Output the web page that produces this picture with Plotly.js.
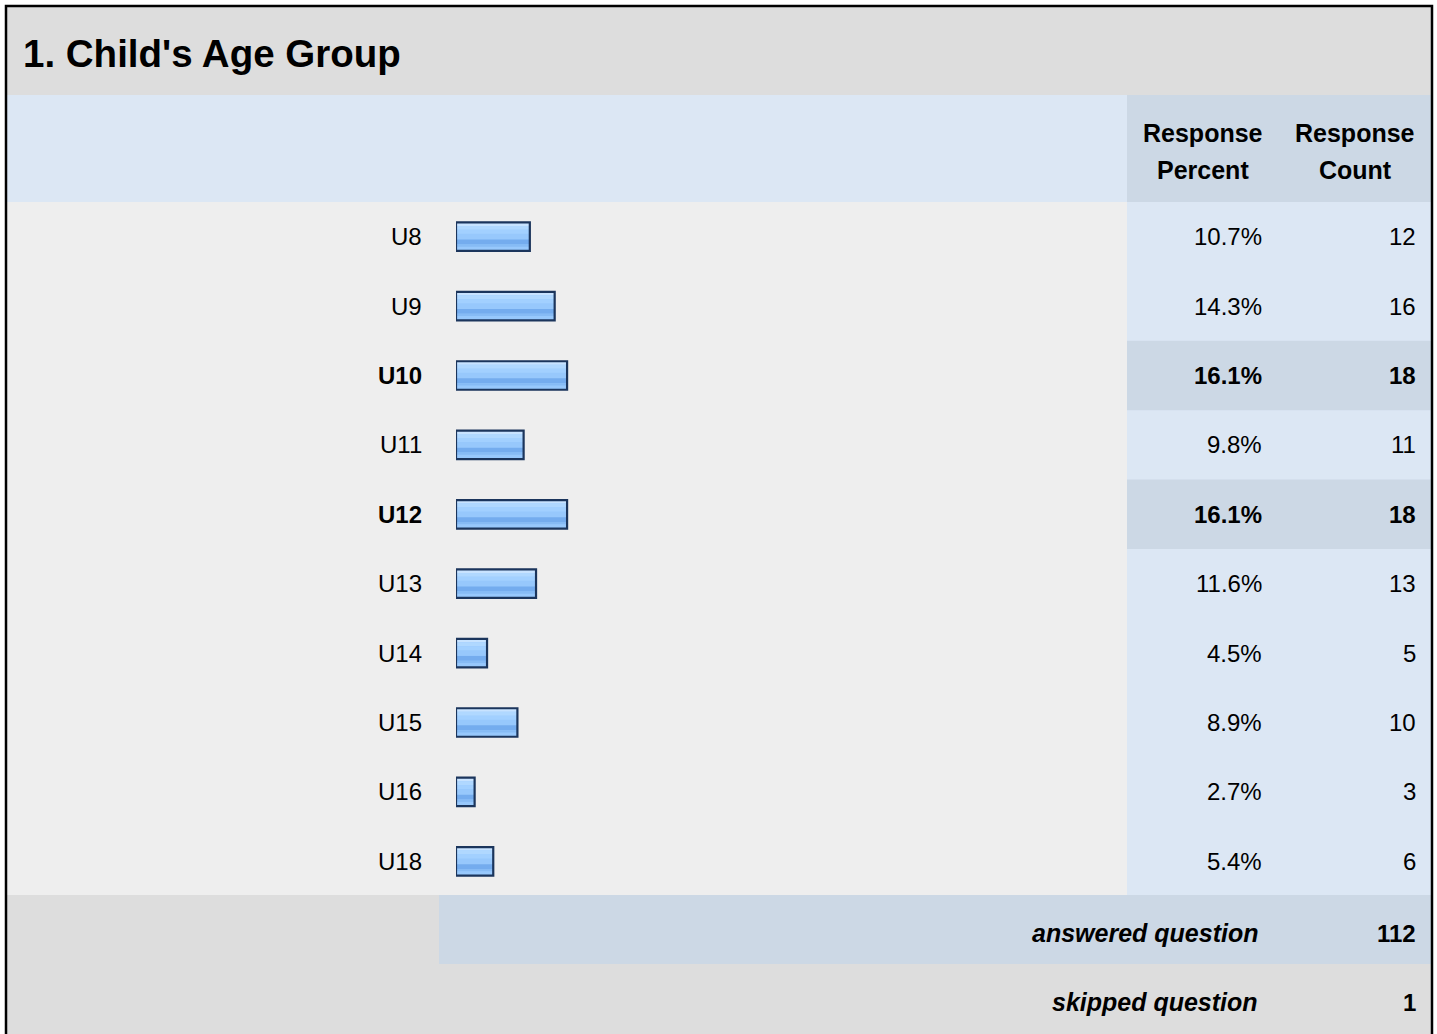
<!DOCTYPE html>
<html>
<head>
<meta charset="utf-8">
<script src="https://cdn.plot.ly/plotly-3.0.1.min.js"></script>
<style>
  html, body { margin: 0; padding: 0; background: #ffffff; }
  #chart { width: 1437px; height: 1034px; }
</style>
</head>
<body>
<div id="chart"></div>
<script>
// ---- data ----
const chartTitle = "1. Child's Age Group";
const categories = ["U8", "U9", "U10", "U11", "U12", "U13", "U14", "U15", "U16", "U18"];
const responsePercent = [10.7, 14.3, 16.1, 9.8, 16.1, 11.6, 4.5, 8.9, 2.7, 5.4];
const responseCount = [12, 16, 18, 11, 18, 13, 5, 10, 3, 6];
const headerPercent = ["Response", "Percent"];
const headerCount = ["Response", "Count"];
const answeredLabel = "answered question";
const answeredCount = 112;
const skippedLabel = "skipped question";
const skippedCount = 1;

// ---- layout helpers (pixel -> paper) ----
const W = 1437, H = 1034;
const px = x => x / W;
const py = y => 1 - y / H;
const FONT = "Liberation Sans, Arial, Helvetica, sans-serif";

const yIdx = categories.map((_, i) => i);
const maxPct = Math.max(...responsePercent);
const isTop = responsePercent.map(v => v === maxPct);

const shapes = [];
function rectPx(x0, y0, x1, y1, color) {
  shapes.push({type: 'rect', xref: 'paper', yref: 'paper', x0: px(x0), x1: px(x1), y0: py(y1), y1: py(y0),
    fillcolor: color, line: {width: 0}, layer: 'below'});
}
// title band
rectPx(6, 6, 1432, 95, '#dddddd');
// header
rectPx(6, 95, 1127, 202, '#dce7f4');
rectPx(1127, 95, 1432, 202, '#ccd8e5');
// body left
rectPx(6, 202, 1127, 896, '#eeeeee');
// body right
rectPx(1127, 202, 1432, 896, '#dce7f4');
// highlighted rows (max response) on the data axis
yIdx.filter(i => isTop[i]).forEach(i => {
  shapes.push({type: 'rect', xref: 'paper', yref: 'y', x0: px(1127), x1: px(1432), y0: i - 0.5, y1: i + 0.5,
    fillcolor: '#ccd8e5', line: {width: 0}, layer: 'below'});
});
// footer
rectPx(6, 895, 1432, 1034, '#dddddd');
rectPx(439, 895, 1432, 964, '#ccd8e5');
// outer frame
shapes.push({type: 'rect', xref: 'paper', yref: 'paper', x0: px(6), x1: px(1432), y0: py(1040), y1: py(6),
  fillcolor: 'rgba(0,0,0,0)', line: {color: '#000000', width: 2.5}, layer: 'above'});

const annotations = [];
function ann(text, x, y, yref, anchor, size, extra) {
  annotations.push(Object.assign({text: text, x: x, y: y, xref: 'paper', yref: yref,
    xanchor: anchor, yanchor: 'middle', showarrow: false,
    font: {family: FONT, size: size, color: '#000000'}}, extra || {}));
}
// title
ann('<b>' + chartTitle + '</b>', px(21), py(54), 'paper', 'left', 38.5);
// header
ann('<b>' + headerPercent[0] + '</b>', px(1203), py(133), 'paper', 'center', 25);
ann('<b>' + headerPercent[1] + '</b>', px(1203), py(170), 'paper', 'center', 25);
ann('<b>' + headerCount[0] + '</b>', px(1355), py(133), 'paper', 'center', 25);
ann('<b>' + headerCount[1] + '</b>', px(1355), py(170), 'paper', 'center', 25);
// rows
yIdx.forEach(i => {
  const b = t => isTop[i] ? '<b>' + t + '</b>' : t;
  ann(b(categories[i]), px(424), i, 'y', 'right', 24);
  ann(b(responsePercent[i].toFixed(1) + '%'), px(1264), i, 'y', 'right', 24);
  ann(b(String(responseCount[i])), px(1417.5), i, 'y', 'right', 24);
});
// footer text
ann('<b><i>' + answeredLabel + '</i></b>', px(1260), py(933), 'paper', 'right', 25);
ann('<b>' + answeredCount + '</b>', px(1417.5), py(933), 'paper', 'right', 24);
ann('<b><i>' + skippedLabel + '</i></b>', px(1260), py(1002), 'paper', 'right', 25);
ann('<b>' + skippedCount + '</b>', px(1417.5), py(1002), 'paper', 'right', 24);

// ---- bars (glossy look via stacked overlay bands) ----
const BH = 0.41;
function barTrace(color, offset, width, line) {
  return {type: 'bar', orientation: 'h', x: responsePercent, y: yIdx,
    offset: offset, width: width, hoverinfo: 'skip',
    marker: {color: color, line: line || {width: 0}}};
}
const traces = [
  barTrace('#97c8fc', -BH / 2, BH),
  barTrace('#c8e3ff', -BH / 2, BH * 0.12),
  barTrace('#b0d8ff', -BH / 2 + BH * 0.12, BH * 0.14),
  barTrace('#a2d0ff', -BH / 2 + BH * 0.26, BH * 0.14),
  barTrace('#74acee', -BH / 2 + BH * 0.60, BH * 0.17),
  barTrace('#86bbf5', -BH / 2 + BH * 0.77, BH * 0.08),
  barTrace('rgba(0,0,0,0)', -BH / 2, BH, {color: '#1b355c', width: 2.2})
];

const layout = {
  width: W, height: H,
  margin: {l: 0, r: 0, t: 0, b: 0},
  paper_bgcolor: '#ffffff',
  plot_bgcolor: 'rgba(0,0,0,0)',
  showlegend: false,
  barmode: 'overlay',
  xaxis: {domain: [px(456), px(1146)], range: [0, 100], visible: false, fixedrange: true},
  yaxis: {domain: [py(896), py(202)], range: [9.5, -0.5], visible: false, fixedrange: true},
  shapes: shapes,
  annotations: annotations
};

Plotly.newPlot('chart', traces, layout, {staticPlot: true, displayModeBar: false});
</script>
</body>
</html>
